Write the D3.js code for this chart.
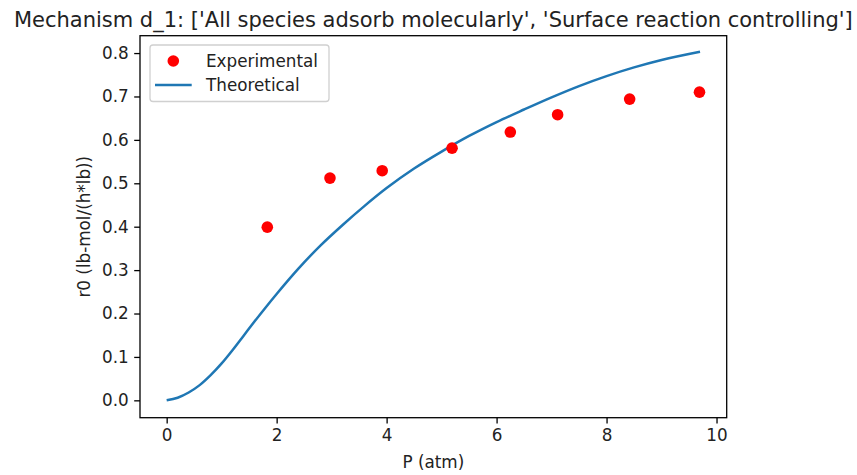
<!DOCTYPE html>
<html>
<head>
<meta charset="utf-8">
<script src="https://cdn.jsdelivr.net/npm/d3@7"></script>
<style>
  html, body { margin: 0; padding: 0; background: #fff; }
  svg { display: block; font-family: "DejaVu Sans", sans-serif; }
</style>
</head>
<body>
<svg id="chart" width="857" height="475"></svg>
<script>
// ---- data ----
const expP = [1.83, 2.97, 3.92, 5.19, 6.25, 7.11, 8.42, 9.69];
const expR = [0.399, 0.512, 0.529, 0.581, 0.618, 0.658, 0.694, 0.710];

const theoP = [0, 0.2, 0.4, 0.6, 0.8, 1.0, 1.2, 1.4, 1.6, 1.8, 2.0, 2.4, 2.8, 3.2, 3.6, 4.0, 4.5, 5.0, 5.5, 6.0, 6.5, 7.0, 7.5, 8.0, 8.5, 9.0, 9.7];
const theoR = [0.000, 0.006, 0.018, 0.035, 0.058, 0.085, 0.116, 0.149, 0.182, 0.214, 0.245, 0.304, 0.357, 0.404, 0.448, 0.489, 0.534, 0.573, 0.609, 0.641, 0.670, 0.698, 0.724, 0.747, 0.767, 0.784, 0.803];

const xTicks = [0, 2, 4, 6, 8, 10];
const yTicks = [0.0, 0.1, 0.2, 0.3, 0.4, 0.5, 0.6, 0.7, 0.8];

const titleText = "Mechanism d_1: ['All species adsorb molecularly', 'Surface reaction controlling']";
const xLabel = "P (atm)";
const yLabel = "r0 (lb-mol/(h*lb))";
const legendLabels = ["Experimental", "Theoretical"];

// ---- layout ----
const L = 140, R = 726.7, T = 35.7, B = 417.7;
const textColor = "#222";
const fs = "16.8px";

const svg = d3.select("#chart");

const x = d3.scaleLinear().domain([-0.485, 10.185]).range([L, R]);
const y = d3.scaleLinear().domain([-0.04, 0.84]).range([B, T]);

// axes
const xAxis = d3.axisBottom(x).tickValues(xTicks).tickFormat(d3.format("d")).tickSize(5.8).tickPadding(5.5);
const yAxis = d3.axisLeft(y).tickValues(yTicks).tickFormat(d3.format(".1f")).tickSize(5.8).tickPadding(5.5);

const gx = svg.append("g").attr("transform", `translate(0,${B})`).call(xAxis);
const gy = svg.append("g").attr("transform", `translate(${L},0)`).call(yAxis);
[gx, gy].forEach(g => {
  g.select(".domain").remove();
  g.selectAll(".tick line").attr("stroke", "#000").attr("stroke-width", 1.3);
  g.selectAll(".tick text").attr("fill", textColor).attr("font-size", fs)
    .attr("font-family", "DejaVu Sans, sans-serif");
});

// plot data
const line = d3.line().x((d, i) => x(theoP[i])).y((d, i) => y(theoR[i])).curve(d3.curveMonotoneX);
svg.append("path").datum(theoR).attr("d", line)
  .attr("fill", "none").attr("stroke", "#1f77b4").attr("stroke-width", 2.5);

svg.append("g").selectAll("circle").data(expR).join("circle")
  .attr("cx", (d, i) => x(expP[i])).attr("cy", d => y(d)).attr("r", 5.8).attr("fill", "#ff0000");

// frame
svg.append("rect").attr("x", L).attr("y", T).attr("width", R - L).attr("height", B - T)
  .attr("fill", "none").attr("stroke", "#000").attr("stroke-width", 1.3);

// title
svg.append("text").attr("x", (L + R) / 2).attr("y", 26.5).attr("text-anchor", "middle")
  .attr("font-size", "21px").attr("fill", textColor).text(titleText);

// axis labels
svg.append("text").attr("x", (L + R) / 2).attr("y", 468).attr("text-anchor", "middle")
  .attr("font-size", fs).attr("fill", textColor).text(xLabel);
svg.append("text").attr("transform", `translate(90,${(T + B) / 2}) rotate(-90)`).attr("text-anchor", "middle")
  .attr("font-size", fs).attr("fill", textColor).text(yLabel);

// legend
const lg = svg.append("g");
lg.append("rect").attr("x", 150).attr("y", 45).attr("width", 179).attr("height", 56.5)
  .attr("rx", 3).attr("fill", "#fff").attr("fill-opacity", 0.8)
  .attr("stroke", "#d0d0d0").attr("stroke-width", 1.3);
lg.append("circle").attr("cx", 173.3).attr("cy", 61).attr("r", 5.8).attr("fill", "#ff0000");
lg.append("line").attr("x1", 155).attr("x2", 191.7).attr("y1", 85).attr("y2", 85)
  .attr("stroke", "#1f77b4").attr("stroke-width", 2.5);
lg.selectAll("text.lbl").data(legendLabels).join("text").attr("class", "lbl")
  .attr("x", 206).attr("y", (d, i) => 61 + i * 24).attr("dy", "0.35em")
  .attr("font-size", fs).attr("fill", textColor).text(d => d);
</script>
</body>
</html>
